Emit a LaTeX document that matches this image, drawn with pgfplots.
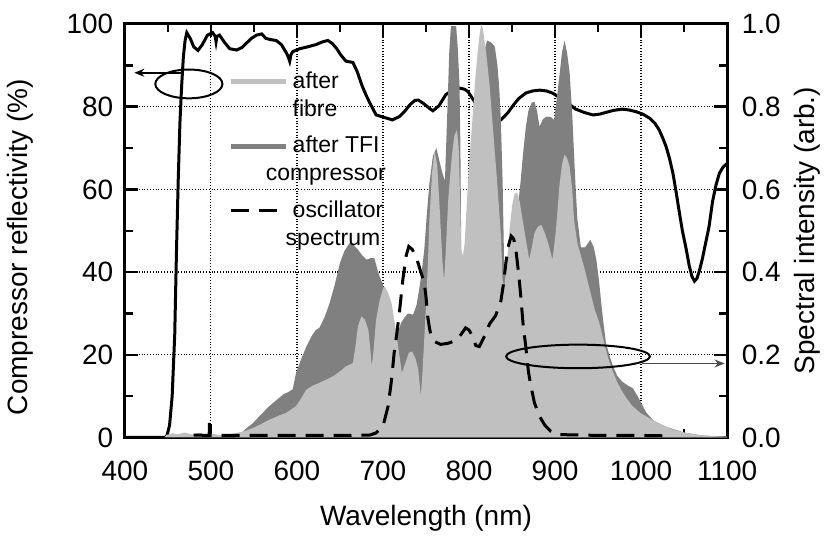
\documentclass[border=0pt]{standalone}
\usepackage{fontspec}
\setmainfont{Liberation Sans}
\usepackage{pgfplots}
\pgfplotsset{compat=1.18}
\usetikzlibrary{arrows.meta}

\definecolor{lightfill}{RGB}{192,192,192}
\definecolor{darkfill}{RGB}{128,128,128}

\pgfplotsset{
  base/.style={
    at={(0,0)}, anchor=south west,
    width=301.5pt, height=207pt, scale only axis,
    xmin=400, xmax=1100,
    tick align=inside,
    major tick length=6.5pt, minor tick length=4pt,
    every tick/.append style={black, line width=1.2pt},
    axis line style={-, line width=1.5pt},
    tick label style={font=\fontsize{14}{16}\selectfont},
    /pgf/number format/assume math mode=true,
    /pgf/number format/1000 sep={},
  },
}

\begin{document}
\begin{tikzpicture}
\useasboundingbox (-62.5pt,-49pt) rectangle (354pt,219pt);

% reflectivity, left axis
\begin{axis}[base,
  ymin=0, ymax=100,
  xtick={400,500,...,1100}, minor x tick num=1,
  ytick={0,20,...,100}, minor y tick num=1,
  xtick pos=both, ytick pos=left,
  xticklabel style={yshift=-8pt},
  yticklabel style={xshift=-2.3pt},
  grid=major,
  major grid style={densely dotted, black, line width=0.6pt},
  xlabel={Wavelength (nm)},
  ylabel={Compressor reflectivity (\%)},
  every axis x label/.style={at={([yshift=-40.5pt]rel axis cs:0.5,0)}, anchor=center,
    font=\fontsize{14}{16}\selectfont},
  every axis y label/.style={at={([xshift=-52.5pt]rel axis cs:0,0.46)}, anchor=center, rotate=90,
    font=\fontsize{14}{16}\selectfont},
]
\addplot[black, line width=1.5pt] coordinates {
  (400,0) (447,0) (449,0.5) (452,3) (455,10) (458,25) (460,45) (462,62)
  (464,76) (466,85) (468,92) (470,96) (472,97.9) (476,96.5) (480,94.5)
  (485,93.6) (490,95) (496,97.3) (502,97.9) (505,97) (506,95.7) (507,97)
  (510,97.3) (516,95.5) (522,94) (530,93.7) (536,94.3) (541,95.3) (547,96.5)
  (553,97.3) (559,97.6) (564,96.5) (570,96.2) (576,96) (582,95) (588,92.9)
  (590,92) (591.6,91) (593,92.5) (595,93.3) (603,94) (611,94.4) (622,95)
  (630,95.7) (636,96) (641,95.3) (646,94.1) (651,92.5) (657,91) (665,90.7)
  (670,88.5) (676,84.9) (681,82.5) (685,80.8) (692,78) (700,77.5) (711,76.8)
  (719,77.6) (725,78.8) (731,80.4) (737,81.5) (741,81.6) (747,80.8) (754,79.6)
  (758,79) (765,80.2) (773,82.9) (781,84) (789,84.5) (795,84.2) (799,83.6)
  (804,82) (810,80) (820,78) (830,77) (837,76.8) (845,78.5) (852,80.5)
  (858,82) (866,83.3) (874,83.8) (882,84) (890,83.8) (897,83.3) (903,82.5)
  (909,81.6) (917,80.5) (924,79.4) (934,78.6) (944,78) (952,78.2) (959,78.6)
  (968,79.1) (978,79.4) (986,79.2) (994,78.8) (1002,78.2) (1010,77.2)
  (1016,76) (1021,74.4) (1025,72.5) (1029,70.4) (1033,67.5) (1037,63.9)
  (1041,59) (1044,55) (1048,50) (1052,46) (1056,41.5) (1059,39) (1062,37.8)
  (1065,38.5) (1068,40.5) (1071,43) (1075,47) (1079,51) (1083,57) (1087,61)
  (1091,63.9) (1095,65.3) (1100,66.3)
};
\end{axis}

% spectra, right axis
\begin{axis}[base,
  ymin=0, ymax=1,
  axis x line=none, axis y line*=right,
  ytick={0,0.2,...,1.0}, minor y tick num=1,
  yticklabel style={xshift=3.8pt, /pgf/number format/.cd, fixed, fixed zerofill, precision=1},
  ylabel={Spectral intensity (arb.)},
  every axis y label/.style={at={([xshift=40pt]rel axis cs:1,0.5)}, anchor=center, rotate=90,
    font=\fontsize{14}{16}\selectfont},
  legend cell align=left,
  legend style={draw=none, fill=none, at={(rel axis cs:0.162,0.905)}, anchor=north west,
    font=\fontsize{11.5}{14}\selectfont, cells={align=left}, row sep=4.5pt},
  legend image code/.code={\draw[#1] (0pt,7pt) -- (27.5pt,7pt);},
]
% after TFI compressor
\addplot[fill=darkfill, draw=none, forget plot] coordinates {
  (528,0) (535,0.01) (540,0.02) (549,0.035) (558,0.055) (568,0.076) (576,0.09)
  (584,0.104) (590,0.11) (595,0.116) (599,0.156) (605,0.19) (611,0.22)
  (617,0.245) (622,0.26) (626,0.265) (632,0.29) (638,0.325) (644,0.37)
  (650,0.422) (655,0.45) (661,0.47) (666,0.465) (671,0.454) (676,0.44)
  (681,0.43) (686,0.434) (690,0.434) (693,0.41) (696,0.39) (700,0.37)
  (705,0.32) (710,0.28) (716,0.245) (721,0.277) (725,0.29) (729,0.30)
  (735,0.297) (739,0.32) (742,0.357) (745,0.40) (748,0.454) (751,0.54)
  (754,0.615) (758,0.68) (762,0.70) (766,0.665) (769,0.64) (772,0.62)
  (775,0.80) (777,0.93) (779,0.995) (785,0.995) (787,0.94) (789,0.85)
  (790,0.7) (791,0.45) (793,0.40) (800,0.55) (810,0.80) (816,0.92) (821,0.96)
  (826,0.955) (830,0.945) (833,0.90) (835,0.85) (837,0.768) (839,0.623)
  (841,0.40) (848,0.42) (855,0.52) (860,0.62) (863,0.69) (866,0.75) (869,0.79)
  (873,0.81) (876,0.812) (879,0.79) (882,0.752) (886,0.77) (890,0.776)
  (895,0.775) (899,0.768) (902,0.82) (905,0.873) (908,0.93) (911,0.96)
  (914,0.93) (917,0.881) (920,0.78) (922,0.688) (924,0.6) (926,0.527)
  (930,0.46) (935,0.46) (941,0.478) (945,0.46) (948,0.43) (951,0.38)
  (955,0.30) (959,0.23) (963,0.2) (967,0.175) (972,0.15) (978,0.135)
  (985,0.125) (990,0.12) (996,0.10) (1001,0.08) (1006,0.06) (1015,0.04)
  (1030,0.025) (1050,0.012) (1070,0.005) (1100,0.002)
} \closedcycle;
% after fibre
\addplot[fill=lightfill, draw=none, forget plot] coordinates {
  (446,0) (448,0.006) (455,0.01) (462,0.008) (470,0.012) (478,0.007)
  (486,0.011) (494,0.008) (502,0.009) (510,0.006) (520,0.007) (530,0.011)
  (540,0.016) (549,0.023) (558,0.032) (568,0.043) (578,0.052) (588,0.06)
  (599,0.076) (605,0.095) (611,0.116) (618,0.125) (626,0.132) (634,0.14)
  (642,0.148) (650,0.16) (657,0.172) (665,0.18) (668,0.22) (671,0.27)
  (675,0.293) (679,0.285) (683,0.26) (685,0.22) (687,0.172) (689,0.21)
  (692,0.285) (696,0.33) (700,0.36) (702,0.365) (706,0.35) (710,0.325)
  (715,0.26) (719,0.2) (722,0.156) (726,0.18) (730,0.205) (734,0.208)
  (738,0.19) (741,0.164) (744,0.10) (746,0.16) (748,0.24) (750,0.32)
  (752,0.41) (754,0.527) (757,0.64) (760,0.692) (763,0.66) (766,0.55)
  (769,0.43) (771,0.38) (773,0.45) (776,0.58) (780,0.68) (783,0.73)
  (786,0.744) (788,0.70) (790,0.55) (791,0.45) (793,0.44) (795,0.47)
  (797,0.55) (800,0.66) (804,0.77) (807,0.86) (810,0.93) (812,0.97)
  (814,1.0) (816,0.99) (818,0.96) (820,0.93) (824,0.85) (827,0.77)
  (830,0.69) (833,0.61) (835,0.55) (837,0.49) (839,0.38) (841,0.365)
  (844,0.42) (847,0.50) (850,0.56) (853,0.59) (856,0.592) (859,0.57)
  (862,0.53) (866,0.48) (870,0.43) (873,0.46) (876,0.494) (880,0.51)
  (884,0.514) (888,0.495) (892,0.47) (897,0.43) (901,0.50) (905,0.607)
  (908,0.66) (911,0.684) (914,0.675) (917,0.655) (920,0.6) (922,0.527)
  (926,0.47) (930,0.44) (934,0.41) (940,0.36) (946,0.31) (951,0.28)
  (957,0.23) (962,0.19) (967,0.16) (972,0.135) (977,0.115) (983,0.095)
  (990,0.076) (1000,0.058) (1013,0.043) (1025,0.03) (1037,0.019)
  (1050,0.012) (1070,0.005) (1085,0.003) (1100,0.002)
} \closedcycle;
% oscillator spectrum
\addplot[black, line width=1.5pt, dash pattern=on 9pt off 5pt, forget plot] coordinates {
  (480,0.006) (496,0.005) (520,0.005) (560,0.005) (600,0.005) (650,0.005)
  (685,0.006) (692,0.011) (700,0.027) (706,0.076) (710,0.14) (713,0.205)
  (716,0.25) (719,0.30) (723,0.38) (727,0.44) (730,0.462) (734,0.455)
  (739,0.434) (744,0.40) (748,0.374) (750,0.34) (752,0.293) (754,0.265)
  (756,0.245) (760,0.232) (767,0.225) (776,0.228) (785,0.235) (791,0.25)
  (796,0.265) (800,0.26) (804,0.245) (808,0.222) (812,0.22) (818,0.245)
  (824,0.275) (831,0.295) (837,0.33) (840,0.37) (843,0.425) (846,0.465)
  (849,0.487) (852,0.48) (855,0.445) (858,0.39) (860,0.345) (863,0.27)
  (866,0.22) (869,0.16) (872,0.124) (876,0.084) (882,0.051) (888,0.03)
  (895,0.015) (905,0.007) (950,0.005) (1000,0.005) (1029,0.004)
};
\addplot[black, line width=1pt, forget plot] coordinates {(497.4,0.004) (497.8,0.035) (498.2,0.004)};

\addlegendimage{line width=2.5pt, lightfill}
\addlegendentry{after\\fibre}
\addlegendimage{line width=2.5pt, darkfill}
\addlegendentry{after TFI\\\hspace*{-13.5pt}compressor}
\addlegendimage{line width=1.5pt, black, dash pattern=on 9pt off 5pt}
\addlegendentry{oscillator\\\hspace*{-3.5pt}spectrum}

% annotation ellipses and arrows
\draw[line width=1pt] (axis cs:474.4,0.855) ellipse [x radius=16.8pt, y radius=7.2pt];
\draw[line width=0.8pt, -{Stealth[length=5pt, width=4pt]}] (axis cs:466,0.882) -- (axis cs:411,0.882);
\draw[line width=1pt] (axis cs:926.7,0.196) ellipse [x radius=36pt, y radius=5.9pt];
\draw[line width=0.7pt, black!70, -{Stealth[length=5pt, width=4pt]}] (axis cs:1001,0.179) -- (axis cs:1097,0.179);
\end{axis}
\end{tikzpicture}
\end{document}
